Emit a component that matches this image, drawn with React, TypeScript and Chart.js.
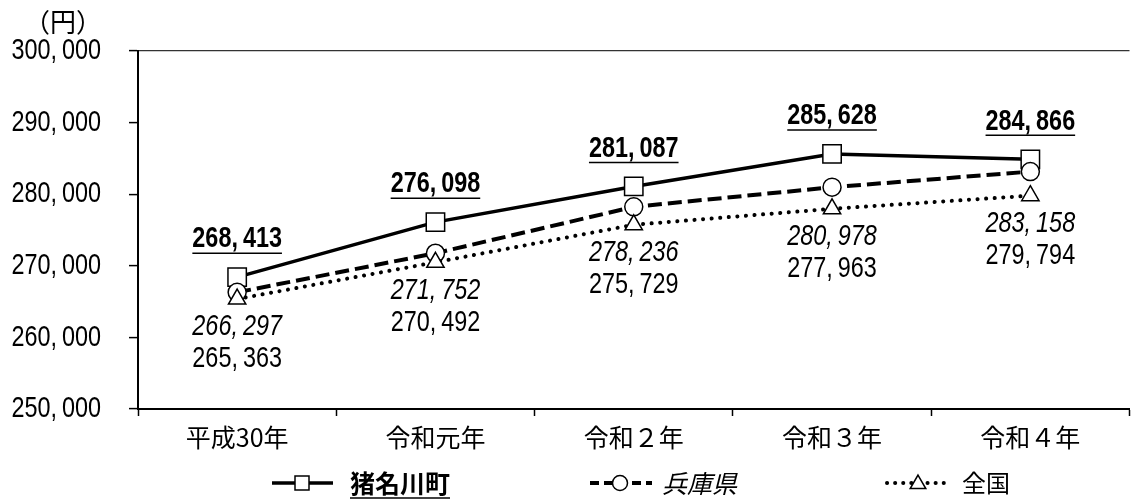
import { useEffect, useRef } from "react";
import { Chart, registerables } from "chart.js";

Chart.register(...registerables);

// Average monthly amounts (円) by fiscal year
const categories = ["平成30年", "令和元年", "令和２年", "令和３年", "令和４年"];
const inagawa = [268413, 276098, 281087, 285628, 284866];
const hyogo = [266297, 271752, 278236, 280978, 283158];
const national = [265363, 270492, 275729, 277963, 279794];
const seriesNames = ["猪名川町", "兵庫県", "全国"];
const yMin = 250000;
const yMax = 300000;
const yStep = 10000;
const unitLabel = "（円）";

const NUM_FONT = "'Liberation Sans', Arial, sans-serif";
const NUM_SIZE = 30;
const NUM_SQUEEZE = 0.78;
const COMMA_GAP = 5;
const JP_FONT = "'Noto Sans CJK JP', sans-serif";

const fmt = (v: number) => v.toLocaleString("en-US");

// numbers are drawn horizontally condensed, with a little air after each comma
function drawNum(
  ctx: CanvasRenderingContext2D,
  text: string,
  x: number,
  y: number,
  style: string,
  align: "left" | "center" | "right"
): number {
  ctx.save();
  ctx.font = `${style} ${NUM_SIZE}px ${NUM_FONT}`;
  ctx.textAlign = "left";
  ctx.textBaseline = "middle";
  const parts = text.split(/(?<=,)/);
  const widths = parts.map((p) => ctx.measureText(p).width * NUM_SQUEEZE);
  const total = widths.reduce((a, b) => a + b, 0) + COMMA_GAP * (parts.length - 1);
  let cx = align === "left" ? x : align === "center" ? x - total / 2 : x - total;
  parts.forEach((p, i) => {
    ctx.save();
    ctx.translate(cx, y);
    ctx.scale(NUM_SQUEEZE, 1);
    ctx.fillText(p, 0, 0);
    ctx.restore();
    cx += widths[i] + COMMA_GAP;
  });
  ctx.restore();
  return total;
}

function drawMarker(ctx: CanvasRenderingContext2D, style: string, x: number, y: number, r: number) {
  ctx.beginPath();
  if (style === "rect") {
    ctx.rect(x - r, y - r, 2 * r, 2 * r);
  } else if (style === "circle") {
    ctx.arc(x, y, r, 0, Math.PI * 2);
  } else {
    ctx.moveTo(x, y - r);
    ctx.lineTo(x + r * 0.866, y + r * 0.5);
    ctx.lineTo(x - r * 0.866, y + r * 0.5);
    ctx.closePath();
  }
  ctx.fillStyle = "#fff";
  ctx.fill();
  ctx.lineWidth = 1.5;
  ctx.strokeStyle = "#000";
  ctx.stroke();
}

const overlayPlugin = {
  id: "overlay",
  afterDatasetsDraw(chart: any) {
    const ctx: CanvasRenderingContext2D = chart.ctx;
    const mTown = chart.getDatasetMeta(0);
    const mNation = chart.getDatasetMeta(2);
    ctx.save();
    ctx.fillStyle = "#000";
    ctx.strokeStyle = "#000";

    // y-axis tick labels
    const yScale = chart.scales.y;
    yScale.ticks.forEach((t: any) => {
      drawNum(ctx, fmt(t.value), 101, yScale.getPixelForValue(t.value), "normal", "right");
    });

    // town values: bold, underlined, above the squares
    mTown.data.forEach((pt: any, i: number) => {
      const x = pt.x;
      const y = pt.y - 38;
      const w = drawNum(ctx, fmt(inagawa[i]), x, y, "bold", "center");
      ctx.lineWidth = 1.5;
      ctx.beginPath();
      ctx.moveTo(x - w / 2, y + 14);
      ctx.lineTo(x + w / 2, y + 14);
      ctx.stroke();
    });

    // prefecture (italic) and national values stacked under the triangles
    mNation.data.forEach((pt: any, i: number) => {
      drawNum(ctx, fmt(hyogo[i]), pt.x, pt.y + 28, "italic", "center");
      drawNum(ctx, fmt(national[i]), pt.x, pt.y + 60, "normal", "center");
    });
    ctx.restore();
  },
  afterDraw(chart: any) {
    const ctx: CanvasRenderingContext2D = chart.ctx;
    ctx.save();
    ctx.fillStyle = "#000";
    ctx.textBaseline = "middle";

    // unit label
    ctx.textAlign = "center";
    ctx.font = `26px ${JP_FONT}`;
    ctx.fillText(unitLabel, 63, 22);

    // legend
    const ly = 483;
    ctx.textAlign = "left";
    ctx.strokeStyle = "#000";

    // solid line + square
    ctx.setLineDash([]);
    ctx.lineWidth = 3.5;
    ctx.beginPath();
    ctx.moveTo(272, ly);
    ctx.lineTo(333, ly);
    ctx.stroke();
    drawMarker(ctx, "rect", 302, ly, 7);
    ctx.fillStyle = "#000";
    ctx.font = `bold 25px ${JP_FONT}`;
    ctx.fillText(seriesNames[0], 350, ly);
    const w0 = ctx.measureText(seriesNames[0]).width;
    ctx.lineWidth = 1.5;
    ctx.beginPath();
    ctx.moveTo(350, ly + 15);
    ctx.lineTo(350 + w0, ly + 15);
    ctx.stroke();

    // dashed line + circle
    ctx.lineWidth = 4;
    ctx.setLineDash([9, 5]);
    ctx.beginPath();
    ctx.moveTo(590, ly);
    ctx.lineTo(652, ly);
    ctx.stroke();
    ctx.setLineDash([]);
    drawMarker(ctx, "circle", 620, ly, 7.5);
    ctx.fillStyle = "#000";
    ctx.font = `italic 25px ${JP_FONT}`;
    ctx.fillText(seriesNames[1], 662, ly);

    // dotted line + triangle
    ctx.lineWidth = 4;
    ctx.lineCap = "round";
    ctx.setLineDash([0.1, 8]);
    ctx.beginPath();
    ctx.moveTo(887, ly);
    ctx.lineTo(945, ly);
    ctx.stroke();
    ctx.setLineDash([]);
    ctx.lineCap = "butt";
    drawMarker(ctx, "triangle", 918, ly + 1, 9);
    ctx.fillStyle = "#000";
    ctx.font = `24px ${JP_FONT}`;
    ctx.fillText(seriesNames[2], 962, ly);

    ctx.restore();
  },
};

export default function App() {
  const canvasRef = useRef<HTMLCanvasElement | null>(null);

  useEffect(() => {
    if (!canvasRef.current) return;
    const chart = new Chart(canvasRef.current, {
      type: "line",
      data: {
        labels: categories,
        datasets: [
          {
            label: seriesNames[0],
            data: inagawa,
            borderColor: "#000",
            borderWidth: 3.5,
            pointStyle: "rect",
            pointRadius: 13,
            pointBackgroundColor: "#fff",
            pointBorderColor: "#000",
            pointBorderWidth: 1.5,
            order: 2,
          },
          {
            label: seriesNames[1],
            data: hyogo,
            borderColor: "#000",
            borderWidth: 4,
            borderDash: [14, 6],
            pointStyle: "circle",
            pointRadius: 9,
            pointBackgroundColor: "#fff",
            pointBorderColor: "#000",
            pointBorderWidth: 1.5,
            order: 1,
          },
          {
            label: seriesNames[2],
            data: national,
            borderColor: "#000",
            borderWidth: 4,
            borderDash: [0.1, 8.5],
            borderCapStyle: "round",
            pointStyle: "triangle",
            pointRadius: 10,
            pointBackgroundColor: "#fff",
            pointBorderColor: "#000",
            pointBorderWidth: 1.5,
            order: 0,
          },
        ],
      },
      options: {
        animation: false,
        responsive: false,
        layout: { padding: { top: 51, right: 1, left: 0, bottom: 0 } },
        plugins: {
          legend: { display: false },
          tooltip: { enabled: false },
        },
        scales: {
          x: {
            offset: true,
            grid: {
              offset: true,
              drawOnChartArea: false,
              tickLength: 7,
              tickColor: "#000",
              tickWidth: 1.5,
            },
            border: { color: "#000", width: 2 },
            ticks: {
              color: "#000",
              font: { family: JP_FONT, size: 25 },
              padding: 6,
              maxRotation: 0,
              autoSkip: false,
            },
            afterFit(scale: any) {
              scale.height = 92;
            },
          },
          y: {
            min: yMin,
            max: yMax,
            ticks: {
              display: false,
              stepSize: yStep,
            },
            grid: {
              color: (c: any) => (c.tick && c.tick.value === yMax ? "#333" : "rgba(0,0,0,0)"),
              lineWidth: 1.2,
              tickColor: "#000",
              tickLength: 9,
              tickWidth: 1.5,
            },
            border: { color: "#000", width: 2 },
            afterFit(scale: any) {
              scale.width = 138;
            },
          },
        },
      },
      plugins: [overlayPlugin],
    });
    return () => chart.destroy();
  }, []);

  return (
    <div style={{ position: "fixed", left: 0, top: 0, width: 1144, height: 501, background: "#fff", overflow: "hidden" }}>
      <canvas ref={canvasRef} width={1144} height={501} style={{ display: "block" }} />
    </div>
  );
}
